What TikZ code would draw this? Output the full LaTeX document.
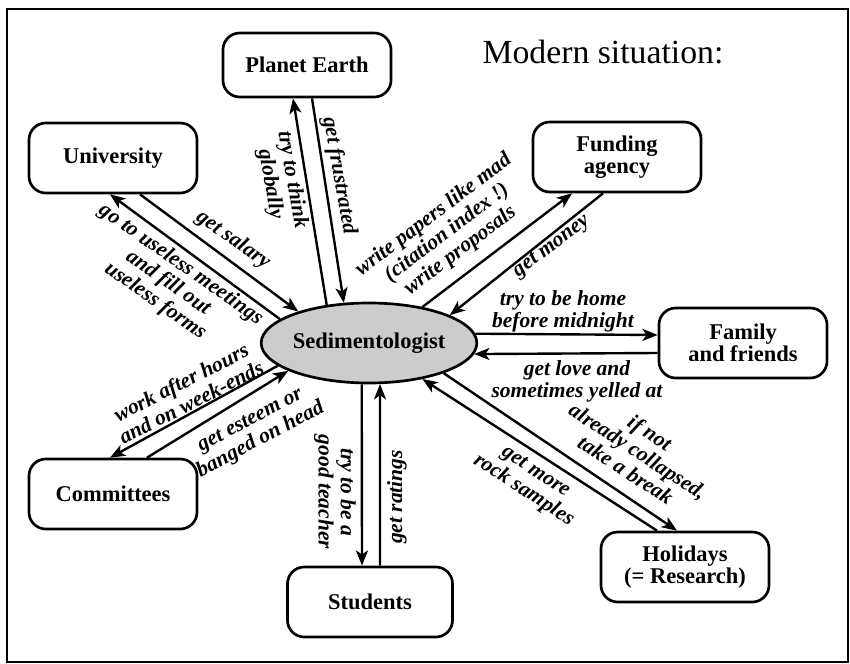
\documentclass[tikz,border=0pt]{standalone}
\usepackage{fontspec}
\setmainfont{Liberation Serif}
\usetikzlibrary{arrows.meta, shapes.geometric, calc}

\begin{document}
\begin{tikzpicture}[
    x=0.025cm, y=-0.025cm,
    box/.style={
        draw, rounded corners=0.42cm,
        line width=1.9pt,
        align=center,
        font=\fontsize{16}{15.8}\selectfont\bfseries,
        minimum width=4.2cm,
        minimum height=1.75cm
    },
    hub/.style={
        draw, ellipse,
        fill=gray!40,
        line width=1.9pt,
        inner sep=0pt,
        font=\fontsize{16}{15.8}\selectfont\bfseries,
        minimum width=5.05cm,
        minimum height=2cm
    },
    arrow/.style={-{Stealth[length=0.38cm, width=0.3cm, inset=0.1cm]}, line width=1.7pt},
    note/.style={font=\fontsize{15.3}{15.8}\selectfont\bfseries\itshape, align=center, inner sep=0pt}
]

% ===================== FRAME AND TITLE =====================
\useasboundingbox (0,0) rectangle (850,664);
\draw[line width=1.2pt] (7,9) rectangle (848,662);

\node[font=\fontsize{24}{28}\selectfont] (title) at (603,52) {Modern situation:};

% ===================== NODES =====================
\node[hub] (sed) at (369,343) {Sedimentologist};

\node[box, minimum height=1.6cm] (earth) at (307,65) {Planet Earth};
\node[box] (univ) at (113,158) {University};
\node[box] (fund) at (617,157) {Funding\\agency};
\node[box] (fam) at (743,343) {Family\\and friends};
\node[box] (holi) at (685,567) {Holidays\\(= Research)};
\node[box, minimum width=4.125cm] (stud) at (370,602) {Students};
\node[box] (comm) at (113,494) {Committees};

% ===================== ARROW PAIRS =====================
\draw[arrow] (sed.138) -- ($(earth.south)+(-14,0)$);
\draw[arrow] ($(earth.south)+(5,0)$) -- (sed.122);

\draw[arrow] (sed.165) -- ($(univ.south)+(-3,0)$);
\draw[arrow] ($(univ.south)+(27,0)$) -- (sed.156);

\draw[arrow] (sed.34) -- ($(fund.south)+(-45,0)$);
\draw[arrow] ($(fund.south)+(-14,0)$) -- (sed.19);

\draw[arrow] (sed.5) -- ($(fam.west)+(0,-8)$);
\draw[arrow] ($(fam.west)+(0,10)$) -- (sed.354);

\draw[arrow] (sed.338) -- ($(holi.north)+(-8,0)$);
\draw[arrow] ($(holi.north)+(-28,0)$) -- (sed.326);

\draw[arrow] (sed.260) -- ($(stud.north)+(-8,0)$);
\draw[arrow] ($(stud.north)+(10,0)$) -- (sed.285);

\draw[arrow] (sed.194) -- ($(comm.north)+(-3,0)$);
\draw[arrow] ($(comm.north)+(34,0)$) -- (sed.199);

% ===================== LABELS =====================
\node[note, rotate=-80] (lThink) at (281,182) {try to think\\globally};
\node[note, rotate=-80] (lFrustr) at (339,176) {get frustrated};

\node[note, rotate=-35] (lSalary) at (233,240) {get salary};
\node[note, rotate=-35] (lMeet) at (168,283) {go to useless meetings\\and fill out\\useless forms};

\node[note, rotate=37] (lPapers) at (447,233) {write papers like mad\\(citation index !)\\write proposals};
\node[note, rotate=37] (lMoney) at (552,247) {get money};

\node[note] (lHome) at (563,311) {try to be home\\before midnight};
\node[note] (lLove) at (577,381) {get love and\\sometimes yelled at};

\node[note, rotate=-33] (lBreak) at (638,451) {if not\\already collapsed,\\take a break};
\node[note, rotate=-33] (lRock) at (529,482) {get more\\rock samples};

\node[note, rotate=-90] (lTeacher) at (335,492) {try to be a\\good teacher};
\node[note, rotate=90] (lRatings) at (397,497) {get ratings};

\node[note, rotate=27] (lWork) at (186,392) {work after hours\\and on week-ends};
\node[note, rotate=28] (lEsteem) at (256,431) {get esteem or\\banged on head};

\end{tikzpicture}
\end{document}
